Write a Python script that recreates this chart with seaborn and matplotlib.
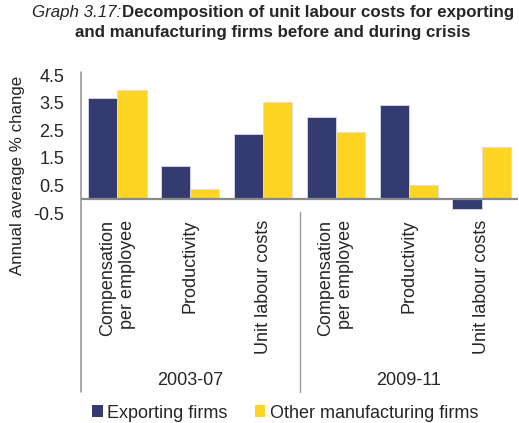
import matplotlib
matplotlib.use("Agg")
import matplotlib.pyplot as plt
import matplotlib.transforms as mtransforms
import seaborn as sns
import pandas as pd

sns.set_style("white")
plt.rcParams['font.family'] = ['Liberation Sans', 'DejaVu Sans']

periods = ["2003-07", "2009-11"]
components = ["Compensation\nper employee", "Productivity", "Unit labour costs"]
series = ["Exporting firms", "Other manufacturing firms"]
exporting = [3.66, 1.19, 2.36, 2.98, 3.43, -0.37]
other = [3.94, 0.37, 3.51, 2.43, 0.51, 1.90]
yticks = [-0.5, 0.5, 1.5, 2.5, 3.5, 4.5]

cats = [f"{p}|{c}" for p in periods for c in components]
df = pd.DataFrame({
    "cat": cats * 2,
    "value": exporting + other,
    "series": [series[0]] * 6 + [series[1]] * 6,
})

W, H = 519, 423
FS = 13
fig = plt.figure(figsize=(W / 100, H / 100), dpi=100)
ax = fig.add_axes([81 / W, 1 - 213 / H, (518 - 81) / W, (213 - 75) / H])

palette = {series[0]: "#343B70", series[1]: "#FFD524"}
sns.barplot(data=df, x="cat", y="value", hue="series", order=cats,
            hue_order=series, palette=palette, width=0.8, ax=ax,
            edgecolor="#d9dbe8", linewidth=0.6, saturation=1)

ax.set_ylim(-0.5, 4.5)
ax.set_xlim(-0.5, 5.5)
ax.set_yticks(yticks)
ax.set_yticklabels([f"{v:.1f}" for v in yticks], fontsize=FS)
ax.tick_params(axis="y", length=0, pad=12)
ax.set_xticks(range(6))
ax.set_xticklabels([c.split("|")[1] for c in cats], rotation=90, va="top",
                   ha="center", ma="right", fontsize=FS)
ax.tick_params(axis="x", length=0, pad=5)
ax.set_xlabel("")
ax.set_ylabel("Annual average % change", fontsize=12.2)
ax.yaxis.set_label_coords((25 - 81) / (518 - 81), (213 - 175) / (213 - 75))
for s in ax.spines.values():
    s.set_visible(False)
ax.axhline(0, color="#8a8a8a", lw=1.6, zorder=3)

grey = "#9a9a9a"
bt = mtransforms.blended_transform_factory(ax.transData, fig.transFigure)
# left axis line extending into the category area
ax.plot([-0.5, -0.5], [1 - 72 / H, 1 - 392 / H], transform=bt, color=grey,
        lw=1.2, clip_on=False)
# group separator
ax.plot([2.5, 2.5], [1 - 212 / H, 1 - 392 / H], transform=bt, color=grey,
        lw=1.0, clip_on=False)
for i, p in enumerate(periods):
    ax.text(1 + 3 * i, 1 - 380 / H, p, transform=bt, ha="center",
            va="center", fontsize=FS)

leg = ax.legend(loc="center", bbox_to_anchor=(285 / W, 1 - 413 / H),
                bbox_transform=fig.transFigure, ncol=2, frameon=False,
                fontsize=FS, handlelength=0.6, handleheight=0.6,
                handletextpad=0.25, columnspacing=1.5, borderaxespad=0)
for h in leg.legend_handles:
    h.set_edgecolor("none")

# title
fig.canvas.draw()
r = fig.canvas.get_renderer()
TFS = 12.2
t1 = fig.text(0, 1 - 17 / H, "Graph 3.17:", style="italic", fontsize=TFS,
              ha="left", va="baseline")
t2 = fig.text(0, 1 - 17 / H, "Decomposition of unit labour costs for exporting",
              weight="bold", fontsize=TFS, ha="left", va="baseline")
w1 = t1.get_window_extent(r).width
w2 = t2.get_window_extent(r).width
x0 = 273 - (w1 + w2) / 2
t1.set_x(x0 / W)
t2.set_x((x0 + w1) / W)
fig.text(273 / W, 1 - 37 / H, "and manufacturing firms before and during crisis",
         weight="bold", fontsize=TFS, ha="center", va="baseline")

fig.savefig("out.png", dpi=100)
